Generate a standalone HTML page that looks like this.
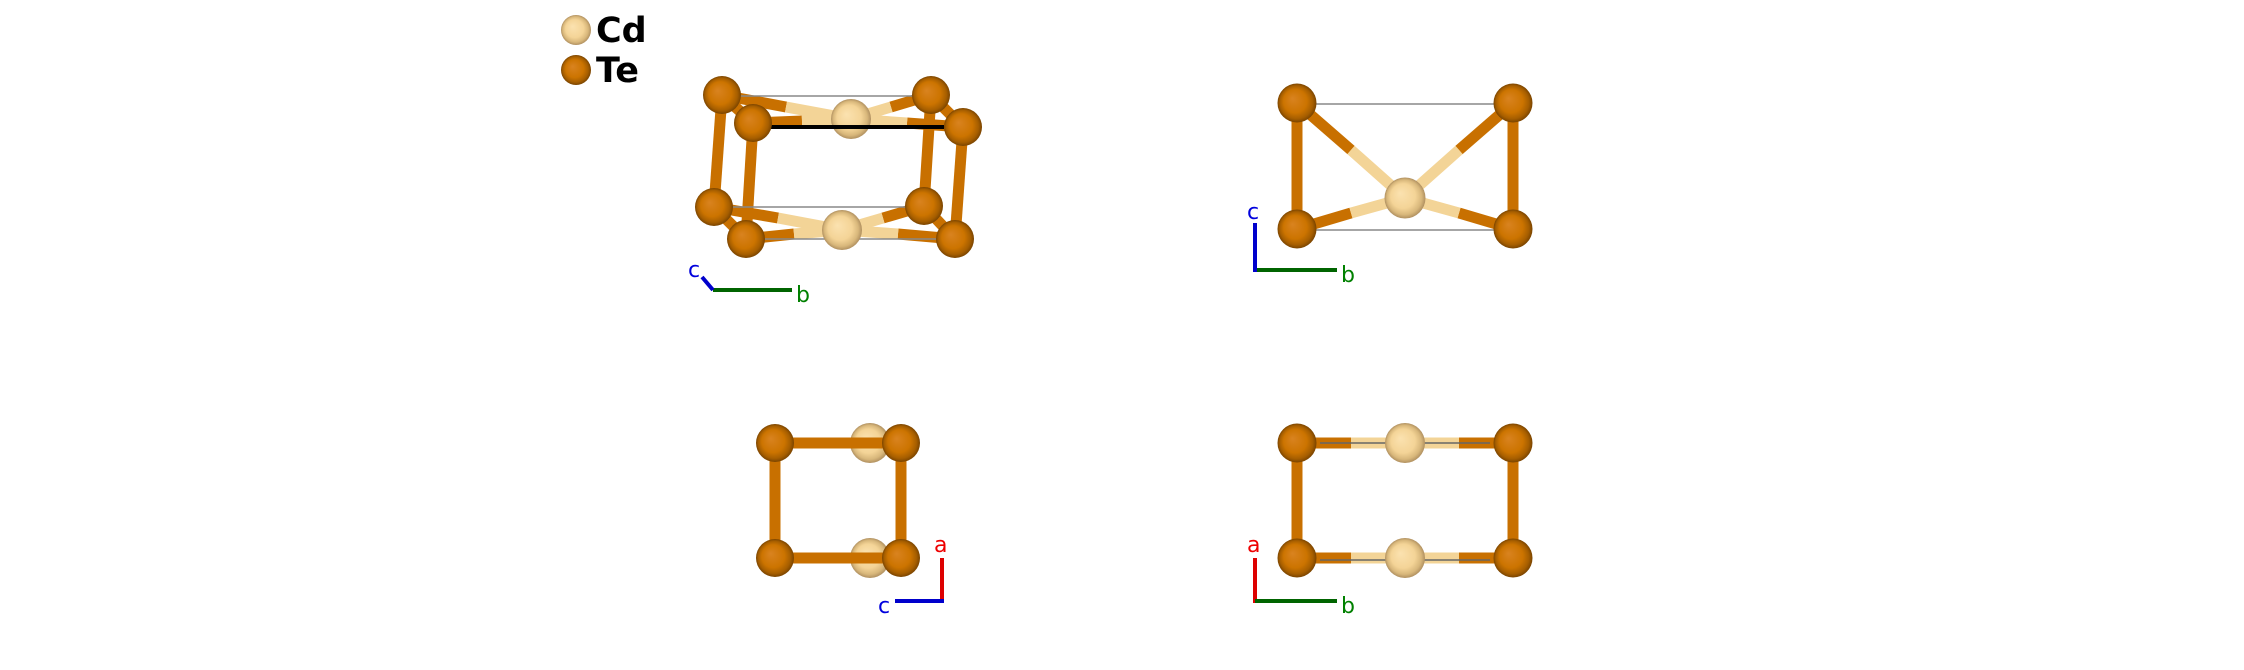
<!DOCTYPE html>
<html><head><style>html,body{margin:0;padding:0;background:#fff}svg{display:block}</style></head>
<body>
<svg width="2244" height="670" viewBox="0 0 2244 670" xmlns="http://www.w3.org/2000/svg" font-family="'DejaVu Sans','Liberation Sans',sans-serif">
<defs>
<radialGradient id="te" cx="50%" cy="50%" r="50%" fx="38%" fy="38%">
<stop offset="0" stop-color="#d98320"/><stop offset="0.6" stop-color="#cc7400"/><stop offset="0.85" stop-color="#a65e00"/><stop offset="1" stop-color="#7a4400"/></radialGradient>
<radialGradient id="cd" cx="50%" cy="50%" r="50%" fx="38%" fy="38%">
<stop offset="0" stop-color="#fbe2b0"/><stop offset="0.6" stop-color="#f4d497"/><stop offset="0.85" stop-color="#d8b77b"/><stop offset="1" stop-color="#b09060"/></radialGradient>
</defs>
<rect width="2244" height="670" fill="#fff"/>
<!-- legend -->
<circle cx="576" cy="30" r="15" fill="url(#cd)"/>
<circle cx="576" cy="70" r="15" fill="url(#te)"/>
<text x="596" y="42" font-size="35" font-weight="bold" fill="#000">Cd</text>
<text x="596" y="82" font-size="35" font-weight="bold" fill="#000">Te</text>

<g stroke-linecap="butt" stroke-width="11">
<g stroke="#c87000">
<line x1="722" y1="95" x2="714" y2="207"/><line x1="753" y1="123" x2="746" y2="239"/>
<line x1="931" y1="95" x2="924" y2="206"/><line x1="963" y1="127" x2="955" y2="239"/>
<line x1="722" y1="95" x2="753" y2="123"/><line x1="931" y1="95" x2="963" y2="127"/>
<line x1="714" y1="207" x2="746" y2="239"/><line x1="924" y1="206" x2="955" y2="239"/>
<line x1="722" y1="95" x2="786" y2="107"/><line x1="931" y1="95" x2="891" y2="107"/>
<line x1="753" y1="123" x2="802" y2="121"/><line x1="963" y1="127" x2="907" y2="123"/>
<line x1="714" y1="207" x2="778" y2="218"/><line x1="924" y1="206" x2="883" y2="218"/>
<line x1="746" y1="239" x2="794" y2="234"/><line x1="955" y1="239" x2="898" y2="234"/>
</g>
<g stroke="#f3d497">
<line x1="851" y1="119" x2="786" y2="107"/><line x1="851" y1="119" x2="891" y2="107"/>
<line x1="851" y1="119" x2="802" y2="121"/><line x1="851" y1="119" x2="907" y2="123"/>
<line x1="842" y1="230" x2="778" y2="218"/><line x1="842" y1="230" x2="883" y2="218"/>
<line x1="842" y1="230" x2="794" y2="234"/><line x1="842" y1="230" x2="898" y2="234"/>
</g>
</g>
<g stroke="#888" stroke-width="1.5">
<line x1="735" y1="96" x2="915" y2="96"/><line x1="720" y1="207" x2="920" y2="207"/>
<line x1="750" y1="239" x2="950" y2="239"/>
</g>
<circle cx="722" cy="95" r="19" fill="url(#te)"/><circle cx="931" cy="95" r="19" fill="url(#te)"/>
<circle cx="714" cy="207" r="19" fill="url(#te)"/><circle cx="924" cy="206" r="19" fill="url(#te)"/>
<circle cx="851" cy="119" r="20" fill="url(#cd)"/><circle cx="842" cy="230" r="20" fill="url(#cd)"/>
<line x1="760" y1="127" x2="944" y2="127" stroke="#000" stroke-width="4"/>
<circle cx="753" cy="123" r="19" fill="url(#te)"/><circle cx="963" cy="127" r="19" fill="url(#te)"/>
<circle cx="746" cy="239" r="19" fill="url(#te)"/><circle cx="955" cy="239" r="19" fill="url(#te)"/>
<line x1="713" y1="290" x2="792" y2="290" stroke="#006400" stroke-width="4"/>
<line x1="713" y1="290" x2="702" y2="277" stroke="#0000cc" stroke-width="4"/>
<text x="688" y="277" font-size="22" fill="#0000dd">c</text>
<text x="796" y="302" font-size="22" fill="#008000">b</text>

<!-- panel2 -->
<g stroke-width="11">
<line x1="1297" y1="103" x2="1297" y2="229" stroke="#c87000"/><line x1="1513" y1="103" x2="1513" y2="229" stroke="#c87000"/>
<line x1="1297" y1="103" x2="1351" y2="150" stroke="#c87000"/><line x1="1513" y1="103" x2="1459" y2="150" stroke="#c87000"/>
<line x1="1297" y1="229" x2="1351" y2="213" stroke="#c87000"/><line x1="1513" y1="229" x2="1459" y2="213" stroke="#c87000"/>
<g stroke="#f3d497"><line x1="1405" y1="198" x2="1351" y2="150"/><line x1="1405" y1="198" x2="1459" y2="150"/>
<line x1="1405" y1="198" x2="1351" y2="213"/><line x1="1405" y1="198" x2="1459" y2="213"/></g>
</g>
<g stroke="#888" stroke-width="1.5"><line x1="1297" y1="104" x2="1513" y2="104"/><line x1="1297" y1="230" x2="1513" y2="230"/></g>
<circle cx="1297" cy="103" r="19.5" fill="url(#te)"/><circle cx="1513" cy="103" r="19.5" fill="url(#te)"/>
<circle cx="1297" cy="229" r="19.5" fill="url(#te)"/><circle cx="1513" cy="229" r="19.5" fill="url(#te)"/>
<circle cx="1405" cy="198" r="20.5" fill="url(#cd)"/>
<line x1="1255" y1="270" x2="1337" y2="270" stroke="#006400" stroke-width="4"/>
<line x1="1255" y1="272" x2="1255" y2="223" stroke="#0000cc" stroke-width="4"/>
<text x="1247" y="219" font-size="22" fill="#0000dd">c</text>
<text x="1341" y="282" font-size="22" fill="#008000">b</text>

<!-- panel3 -->
<circle cx="870" cy="443" r="20" fill="url(#cd)"/><circle cx="870" cy="558" r="20" fill="url(#cd)"/>
<g stroke="#c87000" stroke-width="11">
<line x1="775" y1="443" x2="901" y2="443"/><line x1="775" y1="558" x2="901" y2="558"/>
<line x1="775" y1="443" x2="775" y2="558"/><line x1="901" y1="443" x2="901" y2="558"/>
</g>
<circle cx="775" cy="443" r="19" fill="url(#te)"/><circle cx="901" cy="443" r="19" fill="url(#te)"/>
<circle cx="775" cy="558" r="19" fill="url(#te)"/><circle cx="901" cy="558" r="19" fill="url(#te)"/>
<line x1="942" y1="603" x2="942" y2="558" stroke="#dd0000" stroke-width="4"/>
<line x1="944" y1="601" x2="895" y2="601" stroke="#0000cc" stroke-width="4"/>
<text x="934" y="552" font-size="22" fill="#ee0000">a</text>
<text x="878" y="613" font-size="22" fill="#0000dd">c</text>

<!-- panel4 -->
<g stroke-width="11">
<line x1="1297" y1="443" x2="1297" y2="558" stroke="#c87000"/><line x1="1513" y1="443" x2="1513" y2="558" stroke="#c87000"/>
<line x1="1297" y1="443" x2="1351" y2="443" stroke="#c87000"/><line x1="1513" y1="443" x2="1459" y2="443" stroke="#c87000"/>
<line x1="1297" y1="558" x2="1351" y2="558" stroke="#c87000"/><line x1="1513" y1="558" x2="1459" y2="558" stroke="#c87000"/>
<line x1="1351" y1="443" x2="1459" y2="443" stroke="#f3d497"/><line x1="1351" y1="558" x2="1459" y2="558" stroke="#f3d497"/>
</g>
<g stroke="#666" stroke-width="1.5"><line x1="1320" y1="443" x2="1490" y2="443"/><line x1="1320" y1="560" x2="1490" y2="560"/></g>
<circle cx="1297" cy="443" r="19.5" fill="url(#te)"/><circle cx="1513" cy="443" r="19.5" fill="url(#te)"/>
<circle cx="1297" cy="558" r="19.5" fill="url(#te)"/><circle cx="1513" cy="558" r="19.5" fill="url(#te)"/>
<circle cx="1405" cy="443" r="20" fill="url(#cd)"/><circle cx="1405" cy="558" r="20" fill="url(#cd)"/>
<line x1="1255" y1="603" x2="1255" y2="558" stroke="#dd0000" stroke-width="4"/>
<line x1="1255" y1="601" x2="1337" y2="601" stroke="#006400" stroke-width="4"/>
<text x="1247" y="552" font-size="22" fill="#ee0000">a</text>
<text x="1341" y="613" font-size="22" fill="#008000">b</text>
</svg>
</body></html>
